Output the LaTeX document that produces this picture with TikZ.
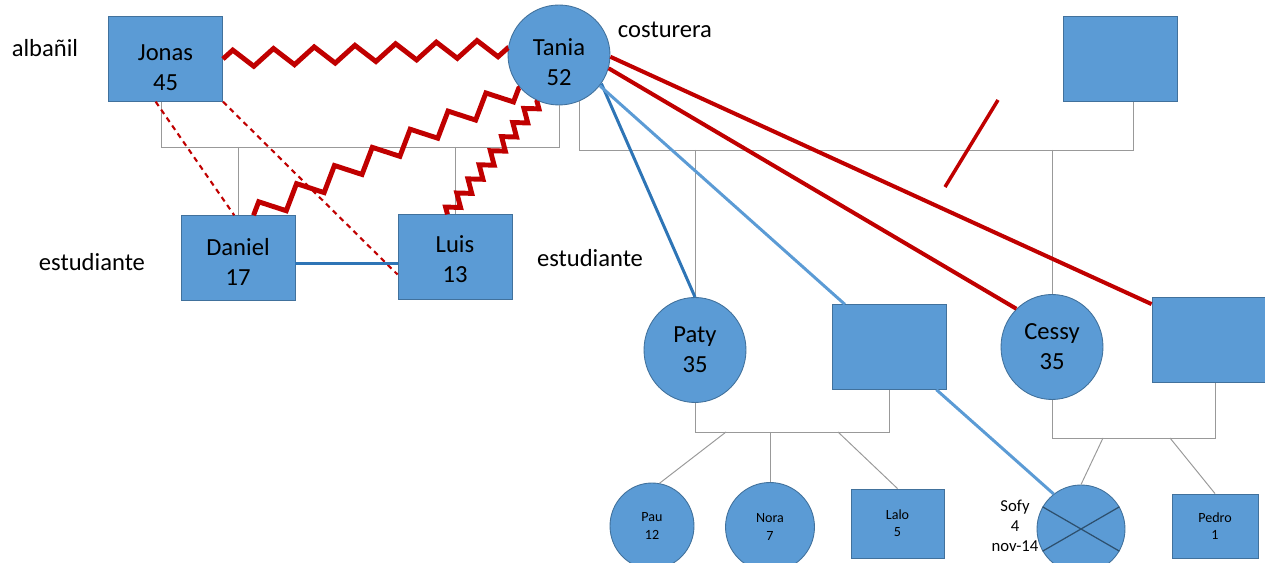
\documentclass[tikz,border=0pt]{standalone}
\usepackage{fontspec}
\setmainfont{Carlito}
\usepackage{xcolor}
\usetikzlibrary{shapes.geometric,decorations.pathmorphing}
\definecolor{genblue}{HTML}{5B9BD5}
\definecolor{genedge}{HTML}{41719C}
\definecolor{gendark}{HTML}{2E75B6}
\definecolor{genred}{HTML}{C00000}

\begin{document}
\begin{tikzpicture}[x=0.02cm,y=-0.02cm,
  male/.style={draw=genedge,fill=genblue,line width=0.5pt,minimum width=2.28cm,minimum height=1.69cm,align=center,font=\fontsize{14}{17}\selectfont},
  female/.style={ellipse,draw=genedge,fill=genblue,line width=0.5pt,minimum width=2.04cm,minimum height=2.1cm,inner sep=0pt,align=center,font=\fontsize{14}{17}\selectfont},
  kid/.style={font=\fontsize{8}{9.7}\selectfont},
  drop/.style={execute at begin node={\rule{0pt}{#1}}},
  tag/.style={font=\fontsize{14}{17}\selectfont},
  kin/.style={draw=gray!80,line width=0.55pt},
  hostile/.style={genred,line width=2.8pt,decorate,decoration={zigzag,segment length=0.815cm,amplitude=0.17cm}},
  tie/.style={line width=1.7pt}]
  \useasboundingbox (0,0) rectangle (1265,563);

  \node[male,drop=36pt] (jonas) at (165.5,59) {Jonas\\45};
  \node[female,minimum height=2cm,drop=34.5pt] (tania) at (559,55) {Tania\\52};
  \node[male,drop=31.5pt] (daniel) at (238,258) {Daniel\\17};
  \node[male,drop=29pt] (luis) at (455,257) {Luis\\13};
  \node[male] (exmate) at (1120,59) {};
  \node[female] (paty) at (695,350) {Paty\\35};
  \node[male] (patymate) at (889,347) {};
  \node[female] (cessy) at (1052,347) {Cessy\\35};
  \node[male] (cessymate) at (1209,340) {};
  \node[female,kid,minimum width=1.68cm,minimum height=1.72cm] (pau) at (652,526) {Pau\\12};
  \node[female,kid,minimum width=1.78cm,minimum height=1.78cm] (nora) at (770,527) {Nora\\7};
  \node[male,kid,minimum width=1.86cm,minimum height=1.38cm] (lalo) at (897.5,523.5) {Lalo\\5};
  \node[female,minimum width=1.76cm,minimum height=1.76cm] (sofy) at (1081,529) {};
  \node[male,kid,minimum width=1.72cm,minimum height=1.28cm] (pedro) at (1215,526) {Pedro\\1};
  \draw[genedge!70!black,line width=0.7pt] (sofy.150) -- (sofy.-30) (sofy.30) -- (sofy.210);

  \node[tag] (albanil) at (45,48) {albañil};
  \node[tag] (costurera) at (665,30) {costurera};
  \node[tag] (estdaniel) at (92,262) {estudiante};
  \node[tag] (estluis) at (590,258) {estudiante};
  \node[align=center,font=\fontsize{9.5}{11.4}\selectfont] (sofylbl) at (1015,526) {Sofy\\4\\nov-14};

  \coordinate (u1) at (0,147);
  \coordinate (u2) at (0,150);
  \coordinate (u3) at (0,432);
  \coordinate (u4) at (0,438);
  \draw[kin] (jonas.-96) -- (jonas.-96 |- u1) -- (tania.south |- u1) -- (tania.south);
  \draw[kin] (daniel.north |- u1) -- (daniel.north);
  \draw[kin] (luis.north |- u1) -- (luis.north);
  \draw[kin] (tania.-66) -- (tania.-66 |- u2) -- (exmate.-72 |- u2) -- (exmate.-72);
  \draw[kin] (paty.north |- u2) -- (paty.north);
  \draw[kin] (cessy.north |- u2) -- (cessy.north);
  \draw[kin] (paty.south) -- (paty.south |- u3) -- (patymate.south |- u3) -- (patymate.south);
  \draw[kin] (cessy.south) -- (cessy.south |- u4) -- (cessymate.-82 |- u4) -- (cessymate.-82);
  \coordinate (k1) at (726,432);
  \coordinate (k2) at (838,432);
  \coordinate (k3) at (1103,438);
  \coordinate (k4) at (1170,438);
  \draw[kin] (k1) -- (pau.80);
  \draw[kin] (nora.north |- u3) -- (nora.north);
  \draw[kin] (k2) -- (lalo.north);
  \draw[kin] (k3) -- (sofy.north);
  \draw[kin] (k4) -- (pedro.north);

  \draw[hostile] (jonas.east) -- (tania.172);
  \draw[hostile,decoration={segment length=0.84cm,amplitude=0.2cm}] (daniel.70) -- (tania.220);
  \draw[hostile,decoration={segment length=0.36cm,amplitude=0.12cm}] (luis.100) -- (tania.245);
  \draw[genred,line width=1.2pt,dash pattern=on 3pt off 2.5pt] (jonas.-103) -- (daniel.95);
  \draw[genred,line width=1.2pt,dash pattern=on 3pt off 2.5pt] (jonas.south east) -- (luis.197);
  \draw[gendark,tie] (daniel.-5) -- (daniel.-5 -| luis.west);
  \draw[gendark,tie] (tania.-34) -- (paty.north);
  \draw[genblue,tie] (tania.-37) -- (patymate.136);
  \draw[genblue,tie] (patymate.-42) -- (sofy.128);
  \draw[genred,line width=2.3pt] (tania.-2) -- (cessymate.148);
  \draw[genred,line width=2.3pt] (tania.-15) -- (cessy.133);
  \coordinate (slash-a) at (945,187);
  \coordinate (slash-b) at (998,100);
  \draw[genred,line width=2pt] (slash-a) -- (slash-b);
\end{tikzpicture}
\end{document}
